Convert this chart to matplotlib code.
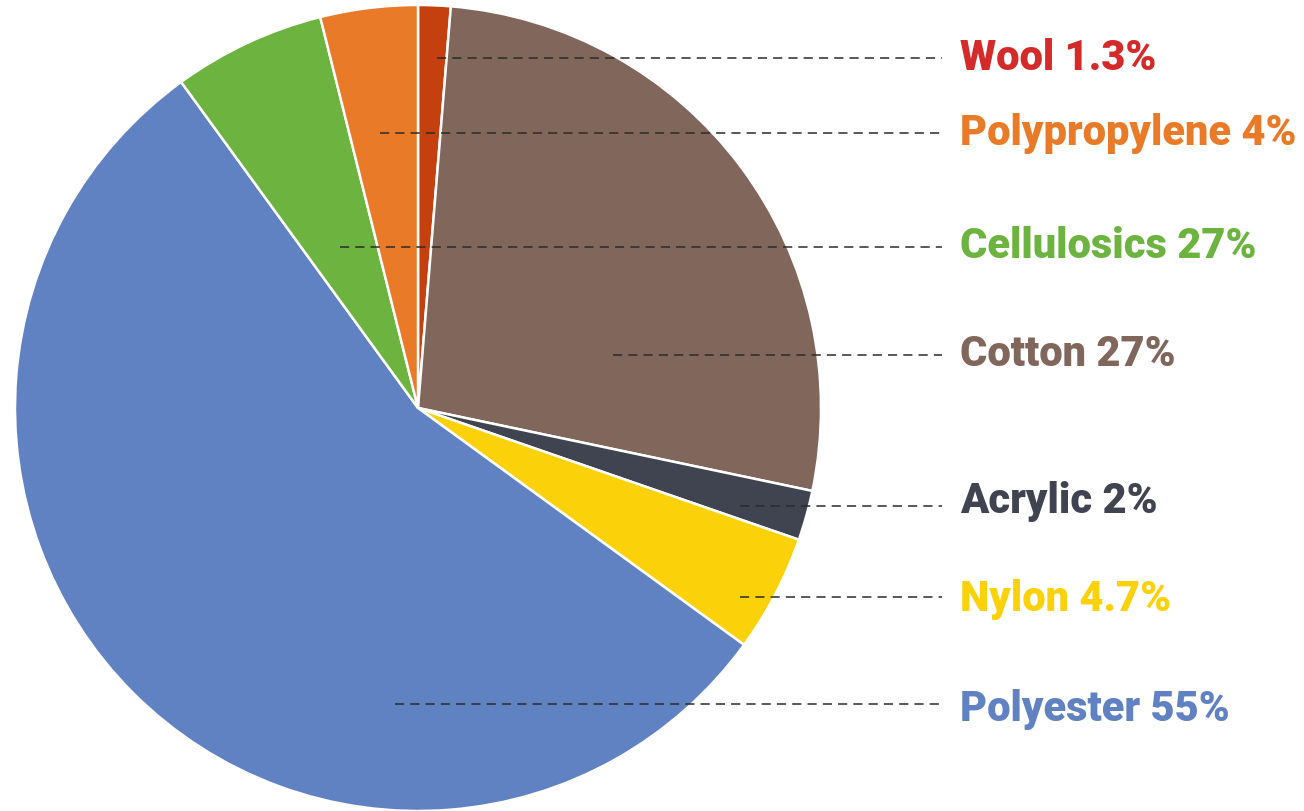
import matplotlib.pyplot as plt

# slice order clockwise from 12 o'clock
fibres = ['Wool', 'Cotton', 'Acrylic', 'Nylon', 'Polyester', 'Cellulosics', 'Polypropylene']
shares = [1.3, 27, 2, 4.7, 55, 6.1, 3.9]
slice_colors = ['#C4410F', '#80665B', '#3F4450', '#FBD20A', '#6182C2', '#6DB33F', '#E87A28']

# label text as printed on the chart (top to bottom)
label_texts = ['Wool 1.3%', 'Polypropylene 4%', 'Cellulosics 27%', 'Cotton 27%',
               'Acrylic 2%', 'Nylon 4.7%', 'Polyester 55%']
label_colors = ['#D42A2A', '#E87A28', '#6DB33F', '#80665B', '#3F4450', '#FBD20A', '#6182C2']

# layout (pixels, top-left origin): label row y and where the leader line starts
label_y = [58, 133, 247, 355, 502, 599, 709]
line_x0 = [437, 380, 340, 613, 740, 740, 395]
line_y = [58, 133, 247, 355, 506, 597, 704]
line_x1 = 942
text_x = 960

W, H = 1304, 811
fig = plt.figure(figsize=(W / 100, H / 100), dpi=100)
ax = fig.add_axes([0, 0, 1, 1])

ax.pie(shares, colors=slice_colors, startangle=90, counterclock=False,
       center=(418, H - 408), radius=403, frame=True,
       wedgeprops=dict(edgecolor='white', linewidth=1.8))
ax.set_xlim(0, W)
ax.set_ylim(0, H)
ax.axis('off')

for t, c, ty, ly, x0 in zip(label_texts, label_colors, label_y, line_y, line_x0):
    ax.plot([x0, line_x1], [H - ly, H - ly], color='#2b2b2b', lw=1.1,
            dashes=(6, 4), solid_capstyle='butt')
    ax.text(text_x, H - ty, t, color=c, fontsize=30, fontweight='black',
            family='Roboto', va='center', ha='left')

fig.savefig('out.png', dpi=100)
